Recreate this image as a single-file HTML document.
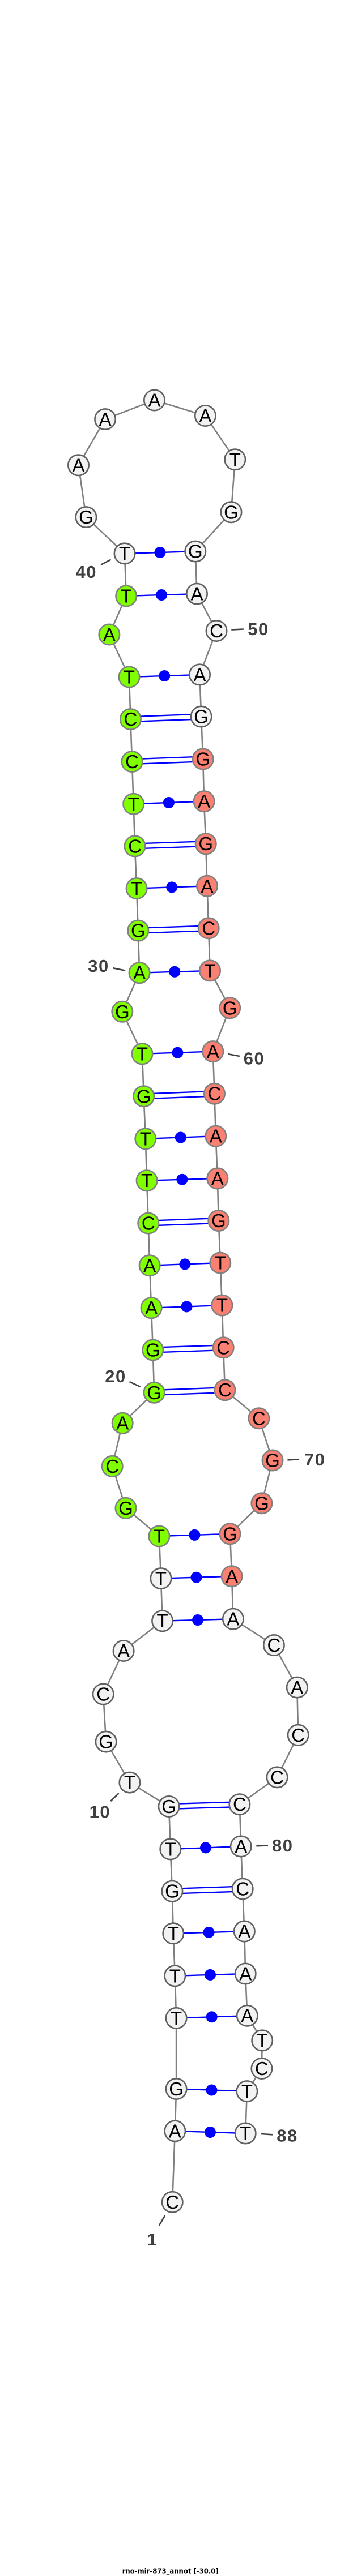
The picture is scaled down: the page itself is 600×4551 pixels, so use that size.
<!DOCTYPE html>
<html><head><meta charset="utf-8"><title>rno-mir-873_annot</title>
<style>
html,body{margin:0;padding:0;background:#fff}
svg{display:block}
.bb{fill:none;stroke:#808080;stroke-width:2.6}
.bp{fill:none;stroke:#0000ff;stroke-width:2.4}
.d{fill:#0000ff}
.g circle{fill:#f2f2f2;stroke:#606060;stroke-width:2.6}
.v circle{fill:#7fff00;stroke:#808080;stroke-width:2.6}
.r circle{fill:#fa8072;stroke:#808080;stroke-width:2.6}
.n text{font:33px "Liberation Sans",sans-serif;text-anchor:middle;fill:#000}
.t{stroke:#404040;stroke-width:2.6;fill:none}
.l{font:bold 31px "Liberation Sans",sans-serif;text-anchor:middle;fill:#404040;letter-spacing:1.5px}
.title{font:bold 12px "DejaVu Sans",sans-serif;fill:#000}
</style></head><body>
<svg width="600" height="4551" viewBox="0 0 600 4551" xmlns="http://www.w3.org/2000/svg">
<polyline class="bb" points="304.2,3890.4 308.8,3764.9 311.1,3690.5 311.1,3565.4 308.8,3490.8 305.8,3415.8 303.9,3341.2 300.8,3266.9 298.1,3191.5 228.9,3149.1 187.1,3077.1 182.2,2993 218.1,2916.5 286.6,2863.7 284,2788.6 280.9,2714 222,2664.3 198.2,2590.4 216.2,2514.2 272.1,2460.3 269.8,2385 267.1,2310.7 264.1,2235.7 261.8,2161.1 259.1,2085.7 256.8,2011.8 253.7,1936.8 251,1861.8 215.8,1787.3 246.1,1718.7 243.8,1644.1 241.1,1569.5 238,1494.9 235.7,1420.3 233,1345.6 230.4,1270.6 228,1196 192.9,1121 222.7,1052.9 220,977.9 151.9,913.6 138.5,821.8 185.6,740.6 272.5,707 362.4,734.5 414.8,811.8 408,904.8 344.8,974.1 347.5,1049.1 382,1114.5 352.5,1191.9 355.1,1266 358.2,1341 360.1,1415.7 363.2,1490.7 365.5,1565.3 368.2,1639.9 370.5,1714.9 405.7,1780.8 375.8,1857.6 378.5,1932.2 380.8,2007.2 383.8,2081.9 385.8,2156.5 388.8,2231.1 391.9,2306.1 394.2,2380.8 396.9,2455.7 456.9,2505.8 481,2580 461.9,2655.8 406,2709.8 409.1,2784.8 411.4,2860.2 483.4,2906.5 524.3,2981.1 526.2,3065.3 489.1,3139.9 422.9,3187.7 425.2,3262 428.2,3337 431.3,3412 433.2,3487 436.3,3561.2 462.7,3604.9 461.9,3654.5 435.9,3694.6 433.2,3769"/>
<path class="bp" d="M308.8 3764.9L433.2 3769M311.1 3690.5L435.9 3694.6M311.1 3565.4L436.3 3561.2M308.8 3490.8L433.2 3487M305.8 3415.8L431.3 3412M300.8 3266.9L425.2 3262M286.6 2863.7L411.4 2860.2M284 2788.6L409.1 2784.8M280.9 2714L406 2709.8M267.1 2310.7L391.9 2306.1M264.1 2235.7L388.8 2231.1M259.1 2085.7L383.8 2081.9M256.8 2011.8L380.8 2007.2M251 1861.8L375.8 1857.6M246.1 1718.7L370.5 1714.9M241.1 1569.5L365.5 1565.3M235.7 1420.3L360.1 1415.7M228 1196L352.5 1191.9M222.7 1052.9L347.5 1049.1M220 977.9L344.8 974.1"/>
<path class="bp" d="M303.9 3336.8L428.2 3332.6M303.9 3345.6L428.2 3341.4M298.1 3187.1L422.9 3183.3M298.1 3195.9L422.9 3192.1M272.1 2455.9L396.9 2451.3M272.1 2464.7L396.9 2460.1M269.8 2380.6L394.2 2376.4M269.8 2389.4L394.2 2385.2M261.8 2156.7L385.8 2152.1M261.8 2165.5L385.8 2160.9M253.7 1932.4L378.5 1927.8M253.7 1941.2L378.5 1936.6M243.8 1639.7L368.2 1635.5M243.8 1648.5L368.2 1644.3M238 1490.5L363.2 1486.3M238 1499.3L363.2 1495.1M233 1341.2L358.2 1336.6M233 1350L358.2 1345.4M230.4 1266.2L355.1 1261.6M230.4 1275L355.1 1270.4"/>
<g class="d">
<circle cx="371" cy="3767" r="10"/><circle cx="373.5" cy="3692.5" r="10"/><circle cx="373.7" cy="3563.3" r="10"/><circle cx="371" cy="3488.9" r="10"/><circle cx="368.5" cy="3413.9" r="10"/><circle cx="363" cy="3264.4" r="10"/><circle cx="349" cy="2862" r="10"/><circle cx="346.5" cy="2786.7" r="10"/><circle cx="343.4" cy="2711.9" r="10"/><circle cx="329.5" cy="2308.4" r="10"/><circle cx="326.4" cy="2233.4" r="10"/><circle cx="321.4" cy="2083.8" r="10"/><circle cx="318.8" cy="2009.5" r="10"/><circle cx="313.4" cy="1859.7" r="10"/><circle cx="308.3" cy="1716.8" r="10"/><circle cx="303.3" cy="1567.4" r="10"/><circle cx="297.9" cy="1418" r="10"/><circle cx="290.2" cy="1194" r="10"/><circle cx="285.1" cy="1051" r="10"/><circle cx="282.4" cy="976" r="10"/>
</g>
<g class="n g">
<circle cx="304.2" cy="3890.4" r="18.2"/><text x="304.2" y="3901.9">C</text>
<circle cx="308.8" cy="3764.9" r="18.2"/><text x="308.8" y="3776.4">A</text>
<circle cx="311.1" cy="3690.5" r="18.2"/><text x="311.1" y="3702">G</text>
<circle cx="311.1" cy="3565.4" r="18.2"/><text x="311.1" y="3576.9">T</text>
<circle cx="308.8" cy="3490.8" r="18.2"/><text x="308.8" y="3502.3">T</text>
<circle cx="305.8" cy="3415.8" r="18.2"/><text x="305.8" y="3427.3">T</text>
<circle cx="303.9" cy="3341.2" r="18.2"/><text x="303.9" y="3352.7">G</text>
<circle cx="300.8" cy="3266.9" r="18.2"/><text x="300.8" y="3278.4">T</text>
<circle cx="298.1" cy="3191.5" r="18.2"/><text x="298.1" y="3203">G</text>
<circle cx="228.9" cy="3149.1" r="18.2"/><text x="228.9" y="3160.6">T</text>
<circle cx="187.1" cy="3077.1" r="18.2"/><text x="187.1" y="3088.6">G</text>
<circle cx="182.2" cy="2993" r="18.2"/><text x="182.2" y="3004.5">C</text>
<circle cx="218.1" cy="2916.5" r="18.2"/><text x="218.1" y="2928">A</text>
<circle cx="286.6" cy="2863.7" r="18.2"/><text x="286.6" y="2875.2">T</text>
<circle cx="284" cy="2788.6" r="18.2"/><text x="284" y="2800.1">T</text>
<circle cx="220" cy="977.9" r="18.2"/><text x="220" y="989.4">T</text>
<circle cx="151.9" cy="913.6" r="18.2"/><text x="151.9" y="925.1">G</text>
<circle cx="138.5" cy="821.8" r="18.2"/><text x="138.5" y="833.3">A</text>
<circle cx="185.6" cy="740.6" r="18.2"/><text x="185.6" y="752.1">A</text>
<circle cx="272.5" cy="707" r="18.2"/><text x="272.5" y="718.5">A</text>
<circle cx="362.4" cy="734.5" r="18.2"/><text x="362.4" y="746">A</text>
<circle cx="414.8" cy="811.8" r="18.2"/><text x="414.8" y="823.3">T</text>
<circle cx="408" cy="904.8" r="18.2"/><text x="408" y="916.3">G</text>
<circle cx="344.8" cy="974.1" r="18.2"/><text x="344.8" y="985.6">G</text>
<circle cx="347.5" cy="1049.1" r="18.2"/><text x="347.5" y="1060.6">A</text>
<circle cx="382" cy="1114.5" r="18.2"/><text x="382" y="1126">C</text>
<circle cx="352.5" cy="1191.9" r="18.2"/><text x="352.5" y="1203.4">A</text>
<circle cx="355.1" cy="1266" r="18.2"/><text x="355.1" y="1277.5">G</text>
<circle cx="411.4" cy="2860.2" r="18.2"/><text x="411.4" y="2871.7">A</text>
<circle cx="483.4" cy="2906.5" r="18.2"/><text x="483.4" y="2918">C</text>
<circle cx="524.3" cy="2981.1" r="18.2"/><text x="524.3" y="2992.6">A</text>
<circle cx="526.2" cy="3065.3" r="18.2"/><text x="526.2" y="3076.8">C</text>
<circle cx="489.1" cy="3139.9" r="18.2"/><text x="489.1" y="3151.4">C</text>
<circle cx="422.9" cy="3187.7" r="18.2"/><text x="422.9" y="3199.2">C</text>
<circle cx="425.2" cy="3262" r="18.2"/><text x="425.2" y="3273.5">A</text>
<circle cx="428.2" cy="3337" r="18.2"/><text x="428.2" y="3348.5">C</text>
<circle cx="431.3" cy="3412" r="18.2"/><text x="431.3" y="3423.5">A</text>
<circle cx="433.2" cy="3487" r="18.2"/><text x="433.2" y="3498.5">A</text>
<circle cx="436.3" cy="3561.2" r="18.2"/><text x="436.3" y="3572.7">A</text>
<circle cx="462.7" cy="3604.9" r="18.2"/><text x="462.7" y="3616.4">T</text>
<circle cx="461.9" cy="3654.5" r="18.2"/><text x="461.9" y="3666">C</text>
<circle cx="435.9" cy="3694.6" r="18.2"/><text x="435.9" y="3706.1">T</text>
<circle cx="433.2" cy="3769" r="18.2"/><text x="433.2" y="3780.5">T</text>
</g>
<g class="n v">
<circle cx="280.9" cy="2714" r="18.2"/><text x="280.9" y="2725.5">T</text>
<circle cx="222" cy="2664.3" r="18.2"/><text x="222" y="2675.8">G</text>
<circle cx="198.2" cy="2590.4" r="18.2"/><text x="198.2" y="2601.9">C</text>
<circle cx="216.2" cy="2514.2" r="18.2"/><text x="216.2" y="2525.7">A</text>
<circle cx="272.1" cy="2460.3" r="18.2"/><text x="272.1" y="2471.8">G</text>
<circle cx="269.8" cy="2385" r="18.2"/><text x="269.8" y="2396.5">G</text>
<circle cx="267.1" cy="2310.7" r="18.2"/><text x="267.1" y="2322.2">A</text>
<circle cx="264.1" cy="2235.7" r="18.2"/><text x="264.1" y="2247.2">A</text>
<circle cx="261.8" cy="2161.1" r="18.2"/><text x="261.8" y="2172.6">C</text>
<circle cx="259.1" cy="2085.7" r="18.2"/><text x="259.1" y="2097.2">T</text>
<circle cx="256.8" cy="2011.8" r="18.2"/><text x="256.8" y="2023.3">T</text>
<circle cx="253.7" cy="1936.8" r="18.2"/><text x="253.7" y="1948.3">G</text>
<circle cx="251" cy="1861.8" r="18.2"/><text x="251" y="1873.3">T</text>
<circle cx="215.8" cy="1787.3" r="18.2"/><text x="215.8" y="1798.8">G</text>
<circle cx="246.1" cy="1718.7" r="18.2"/><text x="246.1" y="1730.2">A</text>
<circle cx="243.8" cy="1644.1" r="18.2"/><text x="243.8" y="1655.6">G</text>
<circle cx="241.1" cy="1569.5" r="18.2"/><text x="241.1" y="1581">T</text>
<circle cx="238" cy="1494.9" r="18.2"/><text x="238" y="1506.4">C</text>
<circle cx="235.7" cy="1420.3" r="18.2"/><text x="235.7" y="1431.8">T</text>
<circle cx="233" cy="1345.6" r="18.2"/><text x="233" y="1357.1">C</text>
<circle cx="230.4" cy="1270.6" r="18.2"/><text x="230.4" y="1282.1">C</text>
<circle cx="228" cy="1196" r="18.2"/><text x="228" y="1207.5">T</text>
<circle cx="192.9" cy="1121" r="18.2"/><text x="192.9" y="1132.5">A</text>
<circle cx="222.7" cy="1052.9" r="18.2"/><text x="222.7" y="1064.4">T</text>
</g>
<g class="n r">
<circle cx="358.2" cy="1341" r="18.2"/><text x="358.2" y="1352.5">G</text>
<circle cx="360.1" cy="1415.7" r="18.2"/><text x="360.1" y="1427.2">A</text>
<circle cx="363.2" cy="1490.7" r="18.2"/><text x="363.2" y="1502.2">G</text>
<circle cx="365.5" cy="1565.3" r="18.2"/><text x="365.5" y="1576.8">A</text>
<circle cx="368.2" cy="1639.9" r="18.2"/><text x="368.2" y="1651.4">C</text>
<circle cx="370.5" cy="1714.9" r="18.2"/><text x="370.5" y="1726.4">T</text>
<circle cx="405.7" cy="1780.8" r="18.2"/><text x="405.7" y="1792.3">G</text>
<circle cx="375.8" cy="1857.6" r="18.2"/><text x="375.8" y="1869.1">A</text>
<circle cx="378.5" cy="1932.2" r="18.2"/><text x="378.5" y="1943.7">C</text>
<circle cx="380.8" cy="2007.2" r="18.2"/><text x="380.8" y="2018.7">A</text>
<circle cx="383.8" cy="2081.9" r="18.2"/><text x="383.8" y="2093.4">A</text>
<circle cx="385.8" cy="2156.5" r="18.2"/><text x="385.8" y="2168">G</text>
<circle cx="388.8" cy="2231.1" r="18.2"/><text x="388.8" y="2242.6">T</text>
<circle cx="391.9" cy="2306.1" r="18.2"/><text x="391.9" y="2317.6">T</text>
<circle cx="394.2" cy="2380.8" r="18.2"/><text x="394.2" y="2392.3">C</text>
<circle cx="396.9" cy="2455.7" r="18.2"/><text x="396.9" y="2467.2">C</text>
<circle cx="456.9" cy="2505.8" r="18.2"/><text x="456.9" y="2517.3">C</text>
<circle cx="481" cy="2580" r="18.2"/><text x="481" y="2591.5">G</text>
<circle cx="461.9" cy="2655.8" r="18.2"/><text x="461.9" y="2667.3">G</text>
<circle cx="406" cy="2709.8" r="18.2"/><text x="406" y="2721.3">G</text>
<circle cx="409.1" cy="2784.8" r="18.2"/><text x="409.1" y="2796.3">A</text>
</g>
<path class="t" d="M178 997.8L195.6 988.6M408.3 1112.6L429.8 1111.5M199.8 1710.3L221.2 1714.6M402.6 1862.2L422.9 1866M228.5 2441.1L247.6 2450M507.5 2579.3L528.1 2578.2M209.7 3168.2L195.2 3182M452.4 3261.2L473 3260.4M460.4 3770L481 3771.3M291.2 3914.2L280.9 3931.7"/>
<text class="l" x="152.3" y="1021">40</text>
<text class="l" x="456" y="1122">50</text>
<text class="l" x="174" y="1717">30</text>
<text class="l" x="448.5" y="1880.5">60</text>
<text class="l" x="204" y="2442">20</text>
<text class="l" x="555.7" y="2589">70</text>
<text class="l" x="176.4" y="3211.5">10</text>
<text class="l" x="498.7" y="3271">80</text>
<text class="l" x="507" y="3783.5">88</text>
<text class="l" x="269" y="3967">1</text>
<text class="title" x="215.7" y="4546.5" textLength="170" lengthAdjust="spacingAndGlyphs">rno-mir-873_annot [-30.0]</text>
</svg>
</body></html>
